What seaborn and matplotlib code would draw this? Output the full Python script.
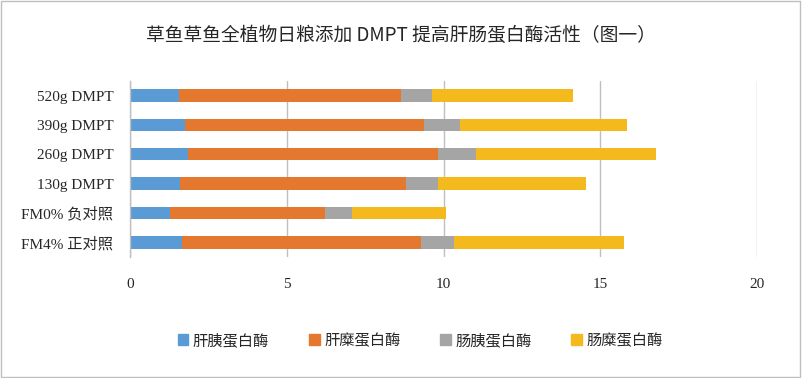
import matplotlib
matplotlib.use("Agg")
import matplotlib.pyplot as plt
from matplotlib.patches import Patch, Rectangle
import numpy as np
import pandas as pd
import seaborn as sns

# --- dados ---
groups = ["520g DMPT", "390g DMPT", "260g DMPT", "130g DMPT", "FM0% 负对照", "FM4% 正对照"]
series = ["肝胰蛋白酶", "肝糜蛋白酶", "肠胰蛋白酶", "肠糜蛋白酶"]
gan_yi = [1.55, 1.75, 1.86, 1.60, 1.27, 1.66]
gan_mi = [7.09, 7.64, 7.98, 7.19, 4.95, 7.61]
chang_yi = [1.00, 1.15, 1.19, 1.04, 0.86, 1.08]
chang_mi = [4.49, 5.32, 5.74, 4.70, 2.99, 5.42]
colors = ["#5B9BD5", "#E5782F", "#A5A5A5", "#F4BA1D"]
xticks = [0, 5, 10, 15, 20]

sns.set_style("white")
plt.rcParams["font.family"] = ["Noto Sans CJK SC", "DejaVu Sans"]
serif = ["Liberation Serif", "Noto Sans CJK SC"]

df = pd.DataFrame({"group": groups, series[0]: gan_yi, series[1]: gan_mi,
                   series[2]: chang_yi, series[3]: chang_mi})
cum = df[series].cumsum(axis=1)

fig = plt.figure(figsize=(8.02, 3.78), dpi=100)
ax = fig.add_axes([0.162, 0.32, 0.782, 0.466])

# empilhado: desenha do acumulado maior para o menor
for s, c in reversed(list(zip(series, colors))):
    sns.barplot(x=cum[s], y=df["group"], order=groups, orient="h",
                color=c, width=0.42, ax=ax, saturation=1, linewidth=0)

ax.set_xlim(0, 20)
ax.set_xticks(xticks)
ax.set_xticklabels([str(t) for t in xticks], family=serif, fontsize=11)
ax.set_yticklabels(groups, family=serif, fontsize=11)
ax.set_xlabel("")
ax.set_ylabel("")
ax.xaxis.grid(True, color="#BFBFBF", linewidth=1)
ax.set_axisbelow(True)
ax.tick_params(axis="y", length=0, pad=12)
ax.tick_params(axis="x", length=0, pad=15)
for sp in ["top", "right", "bottom"]:
    ax.spines[sp].set_visible(False)
ax.spines["left"].set_color("#BFBFBF")
ax.spines["left"].set_linewidth(1)

fig.suptitle("草鱼草鱼全植物日粮添加 DMPT 提高肝肠蛋白酶活性（图一）",
             y=0.935, fontsize=13.5, color="#262626")

handles = [Patch(facecolor=c, edgecolor=c) for c in colors]
fig.legend(handles, series, loc="center", bbox_to_anchor=(0.524, 0.10), ncol=4,
           frameon=False, fontsize=11, handlelength=0.7, handleheight=0.7,
           handletextpad=0.3, columnspacing=2.6)

fig.patches.append(Rectangle((0.001, 0.002), 0.997, 0.995, transform=fig.transFigure,
                             fill=False, edgecolor="#BFBFBF", linewidth=1))

fig.savefig("out.png", dpi=100)
